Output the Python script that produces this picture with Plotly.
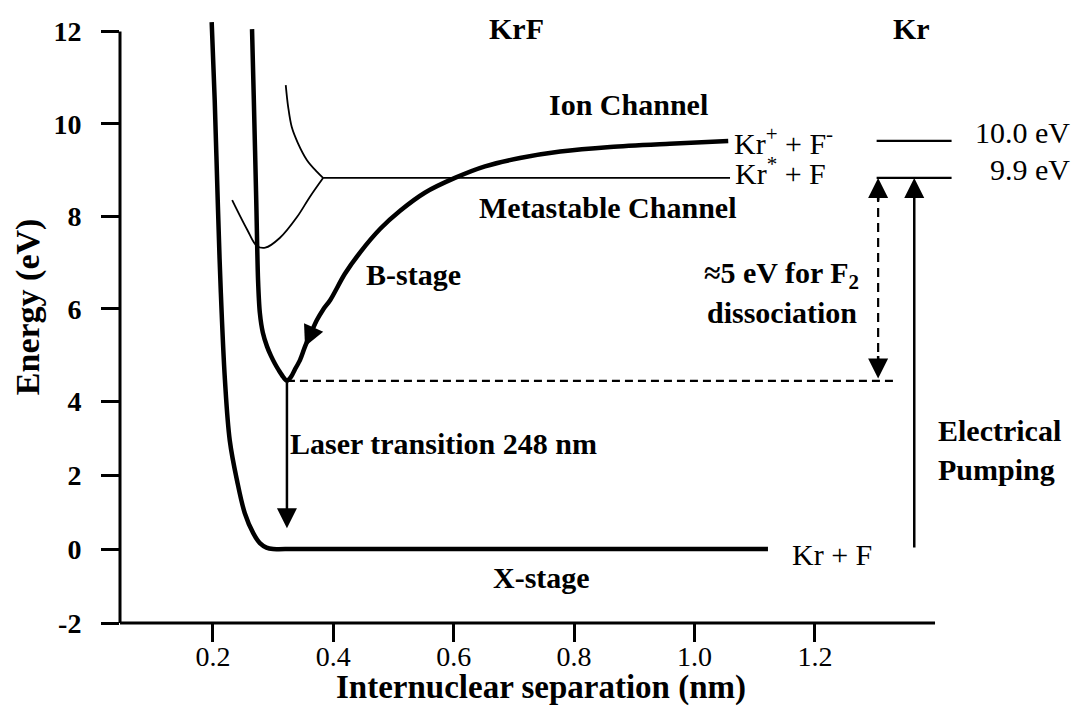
import numpy as np
import plotly.graph_objects as go

# ---------------- potential-energy curves of KrF ----------------
# internuclear separation r (nm) and energy E (eV)
x_state_r = [0.198, 0.203, 0.208, 0.213, 0.220, 0.228, 0.240, 0.253, 0.267, 0.278, 0.289, 0.300, 0.320, 1.122]
x_state_e = [12.2, 10.52, 8.35, 6.41, 4.46, 2.94, 1.86, 0.97, 0.43, 0.16, 0.04, 0.0, 0.0, 0.0]

# B state (ion channel, Kr+ + F-)
ion_r = [0.265, 0.268, 0.272, 0.275, 0.278, 0.283, 0.290, 0.2965, 0.3031, 0.3098, 0.3164, 0.323,
         0.330, 0.336, 0.345, 0.353, 0.363, 0.373, 0.383, 0.395, 0.419, 0.444, 0.478, 0.511,
         0.552, 0.602, 0.652, 0.710, 0.777, 0.860, 0.959, 1.056]
ion_e = [12.05, 10.52, 8.35, 6.62, 5.91, 5.48, 5.18, 4.98, 4.81, 4.66, 4.53, 4.44,
         4.53, 4.68, 4.90, 5.18, 5.48, 5.76, 5.98, 6.19, 6.75, 7.21, 7.73, 8.12,
         8.51, 8.83, 9.08, 9.26, 9.40, 9.50, 9.57, 9.63]

meta_bound_r = [0.232, 0.257, 0.273, 0.287, 0.311, 0.340, 0.361, 0.383]
meta_bound_e = [8.35, 7.71, 7.36, 7.32, 7.53, 7.99, 8.42, 8.83]

meta_rep_r = [0.321, 0.325, 0.331, 0.341, 0.356, 0.373, 0.383]
meta_rep_e = [10.84, 10.37, 9.93, 9.59, 9.22, 8.96, 8.83]

meta_asym_r = [0.383, 1.059]
kr_star_e = 8.83        # Kr* + F asymptote
ion_asym_e = 9.63       # Kr+ + F- asymptote

b_min_r, b_min_e = 0.323, 4.44      # bottom of the B-state well
laser_tip_e = 0.56
dissoc_r = 1.305                    # F2 dissociation arrow
dash_end_r = 1.330
pump_r = 1.365                      # electrical pumping arrow
pump_from_e = 0.0

# atomic Kr levels drawn on the right
level_r = [1.3025, 1.427]
kr_levels_ev = [10.0, 9.9]
kr_level_text = ["10.0 eV", "9.9 eV"]

y_ticks = [-2, 0, 2, 4, 6, 8, 10, 12]
x_ticks = [0.2, 0.4, 0.6, 0.8, 1.0, 1.2]
x_tick_text = ["0.2", "0.4", "0.6", "0.8", "1.0", "1.2"]

# ---------------- energy axis: compressed below 4 eV ----------------
BREAK_E = 4.0
LOW_SCALE = 0.8


def ey(e):
    e = np.asarray(e, dtype=float)
    return np.where(e >= BREAK_E, e, BREAK_E - (BREAK_E - e) * LOW_SCALE)


X_RANGE = [0.0457, 1.632]
Y_RANGE = [float(ey(-2)), 12.68]

# right-hand atomic level scale: 9.9 / 10.0 eV line up with the two asymptotes
lvl_slope = (kr_levels_ev[0] - kr_levels_ev[1]) / (ion_asym_e - kr_star_e)
Y2_RANGE = [kr_levels_ev[1] + (v - kr_star_e) * lvl_slope for v in Y_RANGE]

SERIF = "Liberation Serif"
FS = 30

fig = go.Figure()

thick = dict(color="black", width=4.5, shape="spline", smoothing=0.8)
thin = dict(color="black", width=1.8, shape="spline", smoothing=1.0)

fig.add_trace(go.Scatter(x=x_state_r, y=ey(x_state_e), mode="lines",
                         line=dict(thick, smoothing=1.0), hoverinfo="skip"))
fig.add_trace(go.Scatter(x=ion_r, y=ey(ion_e), mode="lines", line=thick, hoverinfo="skip"))
fig.add_trace(go.Scatter(x=meta_bound_r, y=ey(meta_bound_e), mode="lines", line=thin, hoverinfo="skip"))
fig.add_trace(go.Scatter(x=meta_rep_r, y=ey(meta_rep_e), mode="lines", line=thin, hoverinfo="skip"))
fig.add_trace(go.Scatter(x=meta_asym_r, y=ey([kr_star_e, kr_star_e]), mode="lines",
                         line=dict(color="black", width=1.8), hoverinfo="skip"))

# Kr atomic levels (own scale on y2)
lx, ly = [], []
for lev in kr_levels_ev:
    lx += [level_r[0], level_r[1], None]
    ly += [lev, lev, None]
fig.add_trace(go.Scatter(x=lx, y=ly, yaxis="y2", mode="lines",
                         line=dict(color="black", width=2.2), hoverinfo="skip"))

shapes = [
    # dashed level of the B-state minimum
    dict(type="line", xref="x", yref="y", x0=b_min_r, x1=dash_end_r,
         y0=float(ey(b_min_e)), y1=float(ey(b_min_e)),
         line=dict(color="black", width=2.2, dash="8px,5px")),
    # dashed dissociation arrow shaft
    dict(type="line", xref="x", yref="y", x0=dissoc_r, x1=dissoc_r,
         y0=float(ey(b_min_e)) + 0.3, y1=float(ey(kr_star_e)) - 0.3,
         line=dict(color="black", width=2.2, dash="9px,6px")),
    # axis lines
    dict(type="line", xref="paper", yref="y", x0=0, x1=0, y0=float(ey(-2)), y1=12,
         line=dict(color="black", width=3)),
    dict(type="line", xref="x", yref="paper", x0=X_RANGE[0], x1=1.3995, y0=0, y1=0,
         line=dict(color="black", width=3)),
]

ann = []


def arrow(x, y, ax, ay, width=2.5, size=1.6, rel=False):
    d = dict(x=x, y=y, ax=ax, ay=ay, xref="x", yref="y", text="", showarrow=True,
             arrowhead=2, arrowsize=size, arrowwidth=width, arrowcolor="black",
             standoff=0, startstandoff=0)
    if not rel:
        d.update(axref="x", ayref="y")
    return d


# laser transition
ann.append(arrow(b_min_r, float(ey(laser_tip_e)), b_min_r, float(ey(b_min_e))))
# electrical pumping
ann.append(arrow(pump_r, float(ey(kr_star_e)), pump_r, float(ey(pump_from_e))))
# heads of the dashed dissociation arrow
ann.append(arrow(dissoc_r, float(ey(kr_star_e)), 0, 24, rel=True))
ann.append(arrow(dissoc_r, float(ey(b_min_e)) + 0.05, 0, -24, rel=True))
# arrow running down the B-state curve
i_head = ion_r.index(0.353)
i_tail = ion_r.index(0.373)
ann.append(arrow(ion_r[i_head], float(ey(ion_e[i_head])), ion_r[i_tail], float(ey(ion_e[i_tail])),
                 width=3, size=1.4))


def label(text, x, y, bold=True, size=FS, xanchor="center", yref="y", **kw):
    d = dict(text=text, x=x, y=y, xref="x", yref=yref, showarrow=False,
             xanchor=xanchor, yanchor="middle",
             font=dict(family=SERIF, size=size, color="black",
                       weight="bold" if bold else "normal"))
    d.update(kw)
    return d


ann += [
    label("KrF", 0.7035, 12.07),
    label("Kr", 1.36, 12.07),
    label("Ion Channel", 0.891, 10.41),
    label("Kr<sup>+</sup> + F<sup>-</sup>", ion_r[-1], float(ey(ion_e[-1])), bold=False,
          xanchor="left", xshift=4),
    label("Kr<sup>*</sup> + F", meta_asym_r[-1], float(ey(kr_star_e)), bold=False,
          xanchor="left", xshift=3, yshift=7),
    label("Metastable Channel", 0.856, 8.18),
    label("B-stage", 0.534, 6.73),
    label("≈5 eV for F<sub>2</sub>", 1.0125, 6.73, xanchor="left"),
    label("dissociation", 1.0175, 5.91, xanchor="left"),
    label("Laser transition 248 nm", 0.3247, float(ey(2.86)), xanchor="left"),
    label("X-stage", 0.745, float(ey(-0.76))),
    label("Kr + F", 1.159, float(ey(0.0)), bold=False, xanchor="left", yshift=-5),
    label("Electrical<br>Pumping", 1.401, float(ey(2.69)), xanchor="left", align="left"),
]
for lev, txt in zip(kr_levels_ev, kr_level_text):
    ann.append(label(txt, 1.6266, lev, bold=False, xanchor="right", yref="y2", yshift=8))

# axis titles
ann.append(dict(text="Internuclear separation (nm)", x=0.745, y=-0.104, xref="x", yref="paper",
                showarrow=False, xanchor="center", yanchor="middle",
                font=dict(family=SERIF, size=33, color="black", weight="bold")))
ann.append(dict(text="Energy (eV)", x=-0.096, y=6.04, xref="paper", yref="y",
                showarrow=False, textangle=-90, xanchor="center", yanchor="middle",
                font=dict(family=SERIF, size=34, color="black", weight="bold")))

fig.update_layout(
    width=1079, height=724,
    margin=dict(l=120, r=4, t=0, b=101),
    paper_bgcolor="white", plot_bgcolor="white",
    showlegend=False,
    shapes=shapes,
    annotations=ann,
    xaxis=dict(range=X_RANGE, showgrid=False, zeroline=False, showline=False,
               tickmode="array", tickvals=x_ticks, ticktext=x_tick_text,
               ticks="outside", ticklen=18, tickwidth=3, tickcolor="black",
               ticklabelstandoff=-10,
               tickfont=dict(family=SERIF, size=28, color="black")),
    yaxis=dict(range=Y_RANGE, showgrid=False, zeroline=False, showline=False,
               tickmode="array", tickvals=[float(v) for v in ey(y_ticks)],
               ticktext=[str(t) for t in y_ticks],
               ticks="outside", ticklen=18, tickwidth=3, tickcolor="black",
               ticklabelstandoff=14,
               tickfont=dict(family=SERIF, size=28, color="black", weight="bold")),
    yaxis2=dict(range=Y2_RANGE, overlaying="y", visible=False),
)

fig.write_html("out.html")
